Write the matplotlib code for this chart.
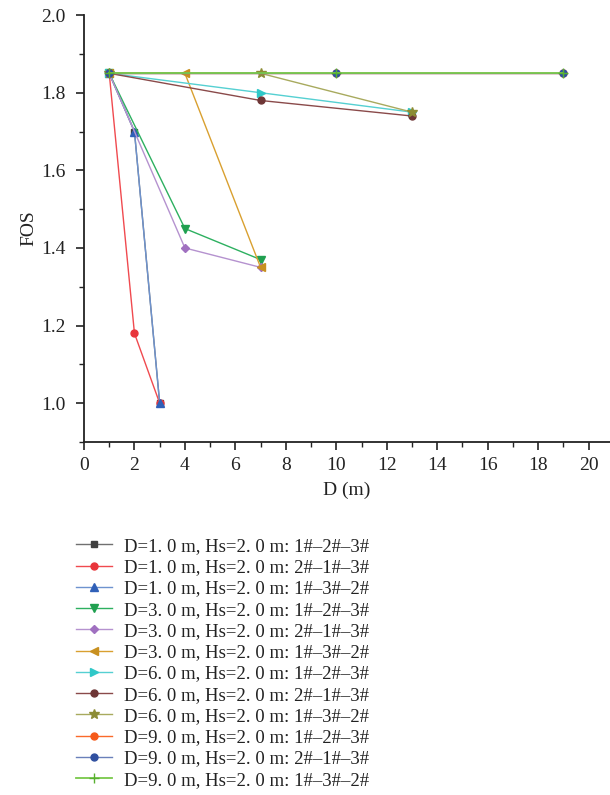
import matplotlib
matplotlib.use("Agg")
import matplotlib.pyplot as plt
from matplotlib.ticker import MultipleLocator, FormatStrFormatter

plt.rcParams['font.family'] = ['Liberation Serif', 'DejaVu Serif']

labels = [
    "D=1. 0 m, Hs=2. 0 m: 1#\u20132#\u20133#",
    "D=1. 0 m, Hs=2. 0 m: 2#\u20131#\u20133#",
    "D=1. 0 m, Hs=2. 0 m: 1#\u20133#\u20132#",
    "D=3. 0 m, Hs=2. 0 m: 1#\u20132#\u20133#",
    "D=3. 0 m, Hs=2. 0 m: 2#\u20131#\u20133#",
    "D=3. 0 m, Hs=2. 0 m: 1#\u20133#\u20132#",
    "D=6. 0 m, Hs=2. 0 m: 1#\u20132#\u20133#",
    "D=6. 0 m, Hs=2. 0 m: 2#\u20131#\u20133#",
    "D=6. 0 m, Hs=2. 0 m: 1#\u20133#\u20132#",
    "D=9. 0 m, Hs=2. 0 m: 1#\u20132#\u20133#",
    "D=9. 0 m, Hs=2. 0 m: 2#\u20131#\u20133#",
    "D=9. 0 m, Hs=2. 0 m: 1#\u20133#\u20132#",
]

x_d1 = [1, 2, 3]
x_d3 = [1, 4, 7]
x_d6 = [1, 7, 13]
x_d9 = [1, 10, 19]

fos_d1_123 = [1.85, 1.70, 1.00]
fos_d1_213 = [1.85, 1.18, 1.00]
fos_d1_132 = [1.85, 1.70, 1.00]
fos_d3_123 = [1.85, 1.45, 1.37]
fos_d3_213 = [1.85, 1.40, 1.35]
fos_d3_132 = [1.85, 1.85, 1.35]
fos_d6_123 = [1.85, 1.80, 1.75]
fos_d6_213 = [1.85, 1.78, 1.74]
fos_d6_132 = [1.85, 1.85, 1.75]
fos_d9_123 = [1.85, 1.85, 1.85]
fos_d9_213 = [1.85, 1.85, 1.85]
fos_d9_132 = [1.85, 1.85, 1.85]

xs = [x_d1, x_d1, x_d1, x_d3, x_d3, x_d3, x_d6, x_d6, x_d6, x_d9, x_d9, x_d9]
ys = [fos_d1_123, fos_d1_213, fos_d1_132, fos_d3_123, fos_d3_213, fos_d3_132,
      fos_d6_123, fos_d6_213, fos_d6_132, fos_d9_123, fos_d9_213, fos_d9_132]

line_colors = ['#707070', '#F04A4F', '#6E93CF', '#2DB060', '#B592CF', '#D9A030',
               '#55D0D2', '#8A4A4A', '#A8AA5E', '#FA6A2A', '#6A80BA', '#78C84A']
marker_colors = ['#404040', '#E8353B', '#3060B8', '#20A050', '#A070C0', '#C89020',
                 '#30C8C8', '#6E3636', '#8C8C34', '#F55A1A', '#3050A0', '#58B030']
markers = ['s', 'o', '^', 'v', 'D', '<', '>', 'o', '*', 'o', 'o', '+']
msizes = [5, 5, 6, 6, 4.5, 6, 6, 5, 7, 5, 5, 7]
lwidths = [1.0] * 11 + [1.3]

fig = plt.figure(figsize=(6.1, 7.95), dpi=100)
ax = fig.add_axes([0.1377, 0.444, 0.8623, 0.537])

for x, y, lc, mc, mk, ms, lw, lab in zip(xs, ys, line_colors, marker_colors, markers,
                                         msizes, lwidths, labels):
    ax.plot(x, y, color=lc, lw=lw, marker=mk, markersize=ms,
            markerfacecolor=mc, markeredgecolor=mc, markeredgewidth=1.0, label=lab)

ax.set_xlim(0, 20.85)
ax.set_ylim(0.9, 2.0)
ax.xaxis.set_major_locator(MultipleLocator(2))
ax.xaxis.set_minor_locator(MultipleLocator(1))
ax.yaxis.set_major_locator(MultipleLocator(0.2))
ax.yaxis.set_minor_locator(MultipleLocator(0.1))
ax.yaxis.set_major_formatter(FormatStrFormatter('%.1f'))
for s in ['top', 'right']:
    ax.spines[s].set_visible(False)
for s in ['left', 'bottom']:
    ax.spines[s].set_linewidth(1.3)
    ax.spines[s].set_color('#222222')
ax.tick_params(which='major', direction='out', length=6, width=1.2, labelsize=14, colors='#222222')
ax.tick_params(which='minor', direction='out', length=3.5, width=1.0, colors='#222222')
ax.tick_params(axis='x', which='major', pad=5)
ax.tick_params(axis='y', which='major', pad=7)

ax.set_xlabel('D (m)', fontsize=14, color='#222222', labelpad=5)
ax.set_ylabel('FOS', fontsize=14, color='#222222', labelpad=3)

handles, labs = ax.get_legend_handles_labels()
fig.legend(handles, labs, loc='upper left', bbox_to_anchor=(0.1246, 0.3235),
           frameon=False, fontsize=13.5, labelspacing=0.22, handlelength=1.92,
           handletextpad=0.64, borderaxespad=0, borderpad=0, labelcolor='#222222')

fig.savefig('out.png', dpi=100)
